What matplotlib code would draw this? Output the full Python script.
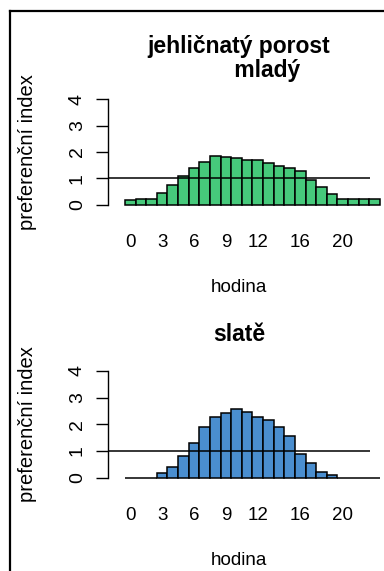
import matplotlib
matplotlib.use('Agg')
import matplotlib.pyplot as plt
from matplotlib.lines import Line2D

plt.rcParams['font.family'] = ['Liberation Sans', 'DejaVu Sans']

# preferenční index po hodinách (0-23)
hodiny = list(range(24))
jehlicnaty_mlady = [0.19, 0.24, 0.24, 0.46, 0.74, 1.08, 1.38, 1.62, 1.85, 1.83, 1.78, 1.68,
                    1.68, 1.60, 1.47, 1.38, 1.27, 0.95, 0.68, 0.40, 0.23, 0.23, 0.23, 0.23]
slate = [0, 0, 0, 0.16, 0.39, 0.81, 1.30, 1.90, 2.26, 2.43, 2.58, 2.47,
         2.27, 2.17, 1.90, 1.55, 0.87, 0.55, 0.22, 0.09, 0, 0, 0, 0]
popisky_hodin = [0, 3, 6, 9, 12, 16, 20]

W, H = 384, 571
fig = plt.figure(figsize=(W / 100, H / 100), dpi=100)


def panel(bottom_px, top_px, values, color, title, title_y):
    left, right = 108, 370
    ax = fig.add_axes([left / W, 1 - bottom_px / H, (right - left) / W, (bottom_px - top_px) / H])
    ax.bar(hodiny, values, width=1, align='edge', color=color, edgecolor='black',
           linewidth=1.1, clip_on=False, zorder=2)
    ax.axhline(1, color='black', lw=1.1, zorder=3)
    ax.set_xlim(-1.6, 23.06)
    ax.set_ylim(-0.16, 4.16)
    for s in ['top', 'right', 'bottom']:
        ax.spines[s].set_visible(False)
    ax.spines['left'].set_bounds(0, 4)
    ax.spines['left'].set_linewidth(1.0)
    ax.set_yticks(range(5))
    ax.set_yticklabels([str(i) for i in range(5)], rotation=90, va='center', fontsize=14)
    ax.tick_params(axis='y', length=9, width=1.0, pad=7)
    ax.set_xticks([h + 0.5 for h in popisky_hodin])
    ax.set_xticklabels([str(h) for h in popisky_hodin], fontsize=13.5)
    ax.tick_params(axis='x', length=0, pad=18)
    ax.set_xlabel('hodina', fontsize=13.5, labelpad=20)
    ax.set_ylabel('preferenční index', fontsize=14.5, labelpad=23)
    ax.text(0.5, title_y, title, transform=ax.transAxes, ha='center', va='bottom',
            fontsize=16.5, fontweight='bold', multialignment='center', linespacing=1.05)
    ax.patch.set_visible(False)
    return ax


panel(209.2, 94.8, jehlicnaty_mlady, '#46C97B', 'jehličnatý porost\n         mladý', 1.11)
panel(481.8, 366.7, slate, '#4A8ECF', 'slatě', 1.18)

# rámeček vlevo a nahoře
fig.add_artist(Line2D([10 / W, 1], [1 - 11 / H, 1 - 11 / H], color='black', lw=1.6))
fig.add_artist(Line2D([10 / W, 10 / W], [0, 1 - 11 / H], color='black', lw=1.6))

fig.savefig('out.png', dpi=100)
